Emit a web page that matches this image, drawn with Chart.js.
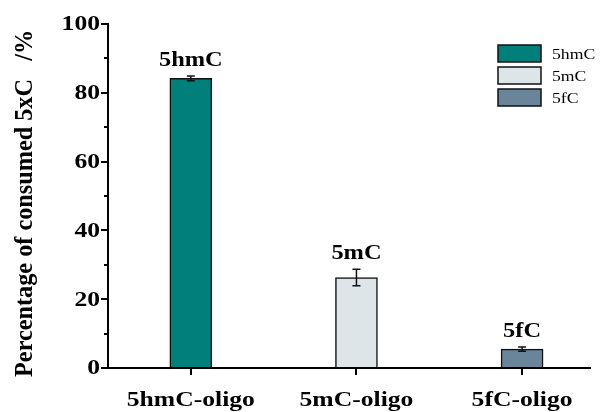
<!DOCTYPE html>
<html><head><meta charset="utf-8">
<script src="https://cdn.jsdelivr.net/npm/chart.js@4/dist/chart.umd.min.js"></script>
<style>html,body{margin:0;padding:0;background:#fff}#wrap{width:604px;height:412px}</style>
</head><body><div id="wrap"><canvas id="c" width="604" height="412"></canvas></div>
<script>
const categories = ['5hmC-oligo', '5mC-oligo', '5fC-oligo'];
const seriesNames = ['5hmC', '5mC', '5fC'];
const values = [84.2, 26.3, 5.5];
const errors = [0.7, 2.4, 0.6];
const colors = ['#007f7b', '#dde5e8', '#6a8599'];
const yTicks = [0, 20, 40, 60, 80, 100];
const yMinorTicks = [10, 30, 50, 70, 90];
const yTitle = 'Percentage of consumed 5xC   /%';

const SERIF = "'Liberation Serif', 'Times New Roman', serif";
const WIDE = 1.22; // glyphs in the reference are drawn wide

function wideText(ctx, text, x, y, font, sx, align, baseline) {
  ctx.save();
  ctx.translate(x, y);
  ctx.scale(sx, 1);
  ctx.font = font;
  ctx.textAlign = align;
  ctx.textBaseline = baseline;
  ctx.fillStyle = '#000';
  ctx.fillText(text, 0, 0);
  ctx.restore();
}

const datasets = seriesNames.map((name, i) => ({
  label: name,
  data: [{x: i + 1, y: values[i]}],
  backgroundColor: colors[i],
  borderColor: '#111',
  borderWidth: 1.5,
  borderSkipped: 'bottom',
  barThickness: 42,
  grouped: false,
  err: errors[i]
}));

const extras = {
  id: 'extras',
  afterDraw(chart) {
    const ctx = chart.ctx;
    const ys = chart.scales.y, xs = chart.scales.x;
    ctx.save();
    // minor y ticks
    ctx.strokeStyle = '#000'; ctx.lineWidth = 2;
    yMinorTicks.forEach(v => {
      const py = Math.round(ys.getPixelForValue(v));
      ctx.beginPath(); ctx.moveTo(xs.left - 4, py); ctx.lineTo(xs.left, py); ctx.stroke();
    });
    // y tick labels
    yTicks.forEach(v => {
      wideText(ctx, String(v), 100, ys.getPixelForValue(v) + 1, 'bold 21px ' + SERIF, WIDE, 'right', 'middle');
    });
    // x tick labels
    categories.forEach((c, i) => {
      wideText(ctx, c, xs.getPixelForValue(i + 1), 406, 'bold 21px ' + SERIF, WIDE, 'center', 'alphabetic');
    });
    // y title
    ctx.save();
    ctx.font = 'bold 26px ' + SERIF;
    const w = ctx.measureText(yTitle).width;
    const yb = ys.getPixelForValue(-2.6), yt = ys.getPixelForValue(98.3);
    ctx.translate(25, (yb + yt) / 2);
    ctx.rotate(-Math.PI / 2);
    ctx.scale((yb - yt) / w, 1);
    ctx.textAlign = 'center'; ctx.textBaseline = 'middle'; ctx.fillStyle = '#000';
    ctx.fillText(yTitle, 0, 0);
    ctx.restore();
    // error bars & labels
    chart.data.datasets.forEach((ds, i) => {
      const bar = chart.getDatasetMeta(i).data[0];
      const v = ds.data[0].y, e = ds.err;
      const x = bar.x;
      const yTop = ys.getPixelForValue(v + e), yBot = ys.getPixelForValue(v - e);
      ctx.strokeStyle = '#111'; ctx.lineWidth = 1.5;
      ctx.beginPath();
      ctx.moveTo(x, yTop); ctx.lineTo(x, yBot);
      ctx.moveTo(x - 4, yTop); ctx.lineTo(x + 4, yTop);
      ctx.moveTo(x - 4, yBot); ctx.lineTo(x + 4, yBot);
      ctx.stroke();
      wideText(ctx, ds.label, x, yTop - 10, 'bold 20px ' + SERIF, WIDE, 'center', 'alphabetic');
    });
    // legend
    const lx = 498, ly = [45, 67, 89], bw = 43, bh = 17;
    chart.data.datasets.forEach((ds, i) => {
      ctx.fillStyle = ds.backgroundColor;
      ctx.fillRect(lx, ly[i], bw, bh);
      ctx.strokeStyle = '#111'; ctx.lineWidth = 1.5;
      ctx.strokeRect(lx, ly[i], bw, bh);
      wideText(ctx, ds.label, 552, ly[i] + bh / 2 + 5, '14.5px ' + SERIF, WIDE, 'left', 'alphabetic');
    });
    ctx.restore();
  }
};

new Chart(document.getElementById('c'), {
  type: 'bar',
  data: { datasets },
  options: {
    responsive: false,
    animation: false,
    layout: { padding: { top: 24, right: 14, bottom: 0, left: 0 } },
    plugins: { legend: { display: false }, tooltip: { enabled: false } },
    scales: {
      x: {
        type: 'linear', min: 0.5, max: 3.41, offset: false,
        afterBuildTicks(s) { s.ticks = categories.map((c, i) => ({ value: i + 1 })); },
        afterFit(s) { s.height = 44; },
        border: { display: true, color: '#000', width: 2 },
        grid: { display: true, offset: false, drawOnChartArea: false, drawTicks: true, tickLength: 7, color: '#000', lineWidth: 2 },
        ticks: { display: false }
      },
      y: {
        min: 0, max: 100,
        afterBuildTicks(s) { s.ticks = yTicks.map(v => ({ value: v })); },
        afterFit(s) { s.width = 108; },
        border: { display: true, color: '#000', width: 2 },
        grid: { display: true, drawOnChartArea: false, drawTicks: true, tickLength: 7, color: '#000', lineWidth: 2 },
        ticks: { display: false }
      }
    }
  },
  plugins: [extras]
});
</script></body></html>
